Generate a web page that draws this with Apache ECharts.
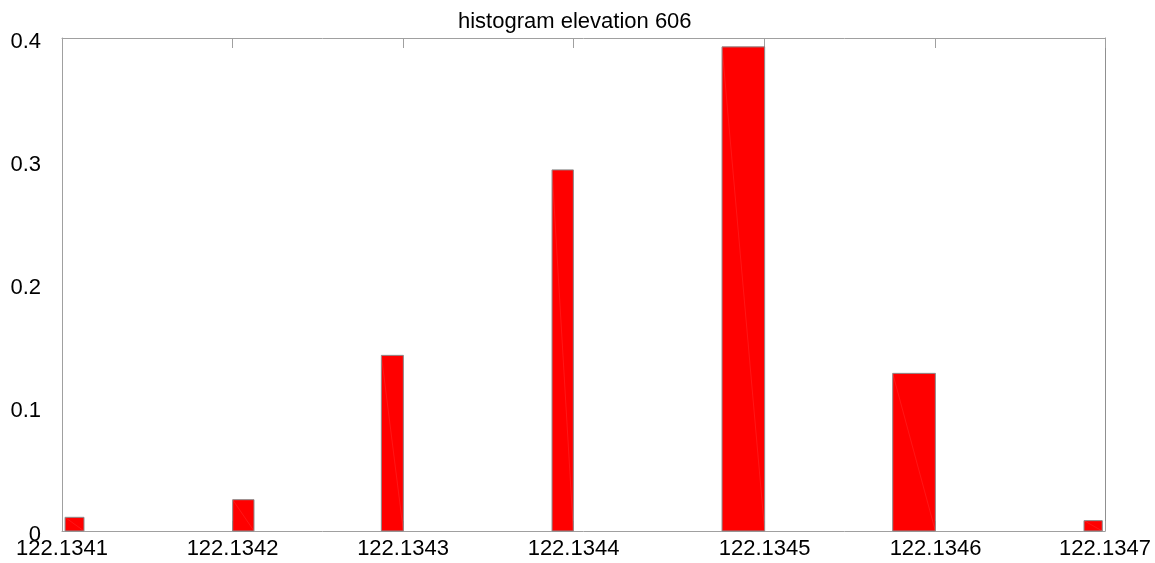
<!DOCTYPE html>
<html>
<head>
<meta charset="utf-8">
<title>histogram elevation 606</title>
<script src="https://cdn.jsdelivr.net/npm/echarts@6/dist/echarts.min.js"></script>
<style>
  html, body { margin: 0; padding: 0; background: #ffffff; }
  #chart { width: 1155px; height: 563px; }
</style>
</head>
<body>
<div id="chart"></div>
<script>
// Histogram bins: left edge, right edge (longitude) and relative frequency
const binStart = [122.1341018, 122.1342001, 122.1342873, 122.1343874, 122.1344871, 122.1345872, 122.1346994];
const binEnd   = [122.1341129, 122.1342126, 122.1343002, 122.1343999, 122.1345121, 122.1346122, 122.1347101];
const binFreq  = [0.0111, 0.0254, 0.1425, 0.293, 0.3928, 0.1279, 0.0084];

// Tick positions along the longitude axis and their printed labels
const xTickValues = [122.1341, 122.1342, 122.1343, 122.1344, 122.1345121, 122.1346123, 122.1347117];
const xTickLabels = ['122.1341', '122.1342', '122.1343', '122.1344', '122.1345', '122.1346', '122.1347'];
const yTickLabels = ['0', '0.1', '0.2', '0.3', '0.4'];

const xMin = xTickValues[0];
const xMax = xTickValues[xTickValues.length - 1];

const bins = binStart.map((s, i) => [s, binEnd[i], binFreq[i]]);

const FONT = '"Liberation Sans", Arial, Helvetica, sans-serif';
const AXIS_GREY = '#a0a0a0';

const chart = echarts.init(document.getElementById('chart'), null, { renderer: 'canvas' });

function labelFor(v) {
  let best = 0, bestD = Infinity;
  xTickValues.forEach((t, i) => {
    const d = Math.abs(t - v);
    if (d < bestD) { bestD = d; best = i; }
  });
  return xTickLabels[best];
}

chart.setOption({
  animation: false,
  backgroundColor: '#ffffff',
  title: {
    text: 'histogram elevation 606',
    left: 453,
    top: 6,
    textStyle: { fontFamily: FONT, fontSize: 22, fontWeight: 'normal', color: '#000000' }
  },
  grid: { left: 62, right: 50, top: 38, bottom: 32, containLabel: false },
  xAxis: [
    {
      type: 'value',
      position: 'bottom',
      min: xMin,
      max: xMax,
      splitLine: { show: false },
      axisLine: { show: true, onZero: false, lineStyle: { color: AXIS_GREY, width: 1 } },
      axisTick: { show: true, inside: true, length: 10, customValues: xTickValues, lineStyle: { color: AXIS_GREY } },
      axisLabel: {
        show: true,
        customValues: xTickValues,
        formatter: labelFor,
        margin: 7,
        fontFamily: FONT,
        fontSize: 22,
        color: '#000000'
      }
    },
    {
      type: 'value',
      position: 'top',
      min: xMin,
      max: xMax,
      splitLine: { show: false },
      axisLine: { show: true, onZero: false, lineStyle: { color: AXIS_GREY, width: 1 } },
      axisTick: { show: true, inside: true, length: 10, customValues: xTickValues, lineStyle: { color: AXIS_GREY } },
      axisLabel: { show: false }
    }
  ],
  yAxis: [
    {
      type: 'value',
      position: 'left',
      min: 0,
      max: 0.4,
      interval: 0.1,
      splitLine: { show: false },
      axisLine: { show: true, onZero: false, lineStyle: { color: AXIS_GREY, width: 1 } },
      axisTick: { show: false },
      axisLabel: {
        margin: 21,
        color: '#000000',
        formatter: (v) => '{t|' + (yTickLabels[Math.round(v * 10)] ?? String(v)) + '}',
        rich: {
          t: { fontFamily: FONT, fontSize: 22, color: '#000000', padding: [7, 0, 0, 0] }
        }
      }
    },
    {
      type: 'value',
      position: 'right',
      min: 0,
      max: 0.4,
      interval: 0.1,
      splitLine: { show: false },
      axisLine: { show: true, onZero: false, lineStyle: { color: '#909090', width: 1 } },
      axisTick: { show: false },
      axisLabel: { show: false }
    }
  ],
  series: [
    {
      type: 'custom',
      xAxisIndex: 0,
      yAxisIndex: 0,
      data: bins,
      encode: { x: [0, 1], y: 2 },
      renderItem: function (params, api) {
        const p0 = api.coord([api.value(0), api.value(2)]);
        const p1 = api.coord([api.value(1), 0]);
        return {
          type: 'group',
          children: [
            {
              type: 'rect',
              shape: { x: p0[0], y: p0[1], width: p1[0] - p0[0], height: p1[1] - p0[1] },
              style: { fill: '#ff0000', stroke: '#8a8a8a', lineWidth: 1 }
            },
            {
              // seam between the two triangles of each filled patch
              type: 'line',
              shape: { x1: p0[0], y1: p0[1], x2: p1[0], y2: p1[1] },
              style: { stroke: 'rgba(255,150,150,0.3)', lineWidth: 0.5 }
            }
          ]
        };
      }
    }
  ]
});
</script>
</body>
</html>
